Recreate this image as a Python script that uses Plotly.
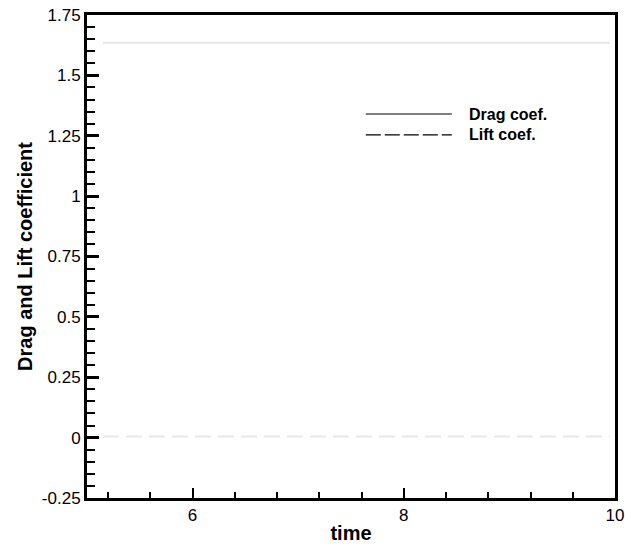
import plotly.graph_objects as go

# ---- data ----
time = [5.15, 6.0, 7.0, 8.0, 9.0, 9.95]
drag_coef = [1.635, 1.635, 1.635, 1.635, 1.635, 1.635]
lift_coef = [0.005, 0.005, 0.005, 0.005, 0.005, 0.005]
series_names = ["Drag coef.", "Lift coef."]
x_tickvals = [6, 8, 10]
y_tickvals = [-0.25, 0, 0.25, 0.5, 0.75, 1, 1.25, 1.5, 1.75]
y_ticktext = ["-0.25", "0", "0.25", "0.5", "0.75", "1", "1.25", "1.5", "1.75"]

FONT = "Liberation Sans, Arial, sans-serif"

fig = go.Figure()
fig.add_trace(go.Scatter(x=time, y=drag_coef, mode="lines", name=series_names[0],
                         line=dict(color="#e6e6e6", width=2), showlegend=False))
fig.add_trace(go.Scatter(x=time, y=lift_coef, mode="lines", name=series_names[1],
                         line=dict(color="#e8e8e8", width=2, dash="16px,7px"), showlegend=False))

# manual legend (long sample lines as in the reference)
leg_x0, leg_x1, leg_tx = 0.528, 0.691, 0.72
leg_y = [0.795, 0.752]
dashes = ["solid", "15px,4px"]
for name, yy, d in zip(series_names, leg_y, dashes):
    fig.add_shape(type="line", xref="paper", yref="paper", x0=leg_x0, x1=leg_x1, y0=yy, y1=yy,
                  line=dict(color="black", width=1.2, dash=d))
    fig.add_annotation(xref="paper", yref="paper", x=leg_tx, y=yy, text="<b>%s</b>" % name,
                       showarrow=False, xanchor="left", yanchor="middle",
                       font=dict(family=FONT, size=16, color="black"))

fig.update_xaxes(range=[5, 10], tickmode="array", tickvals=x_tickvals, automargin=False,
                 ticks="inside", ticklen=10, tickwidth=2, tickcolor="black",
                 showline=True, linewidth=3, linecolor="black", mirror=True,
                 showgrid=False, zeroline=False,
                 minor=dict(tick0=6, dtick=0.4, ticks="inside", ticklen=6, tickwidth=1.5, tickcolor="black"),
                 tickfont=dict(family=FONT, size=17, color="black"),
                 title=dict(text="<b>time</b>", standoff=2,
                            font=dict(family=FONT, size=20, color="black")))
fig.update_yaxes(range=[-0.25, 1.75], tickmode="array", tickvals=y_tickvals, ticktext=y_ticktext,
                 automargin=False,
                 ticks="inside", ticklen=12, tickwidth=2.5, tickcolor="black",
                 showline=True, linewidth=3, linecolor="black", mirror=True,
                 showgrid=False, zeroline=False,
                 minor=dict(tick0=-0.25, dtick=0.05, ticks="inside", ticklen=8, tickwidth=2, tickcolor="black"),
                 tickfont=dict(family=FONT, size=17, color="black"),
                 title=dict(text="<b>Drag and Lift coefficient</b>", standoff=4,
                            font=dict(family=FONT, size=20, color="black")))

fig.update_layout(width=625, height=544, margin=dict(l=87, r=10, t=15, b=46),
                  paper_bgcolor="white", plot_bgcolor="white", showlegend=False)

fig.write_html("out.html")
